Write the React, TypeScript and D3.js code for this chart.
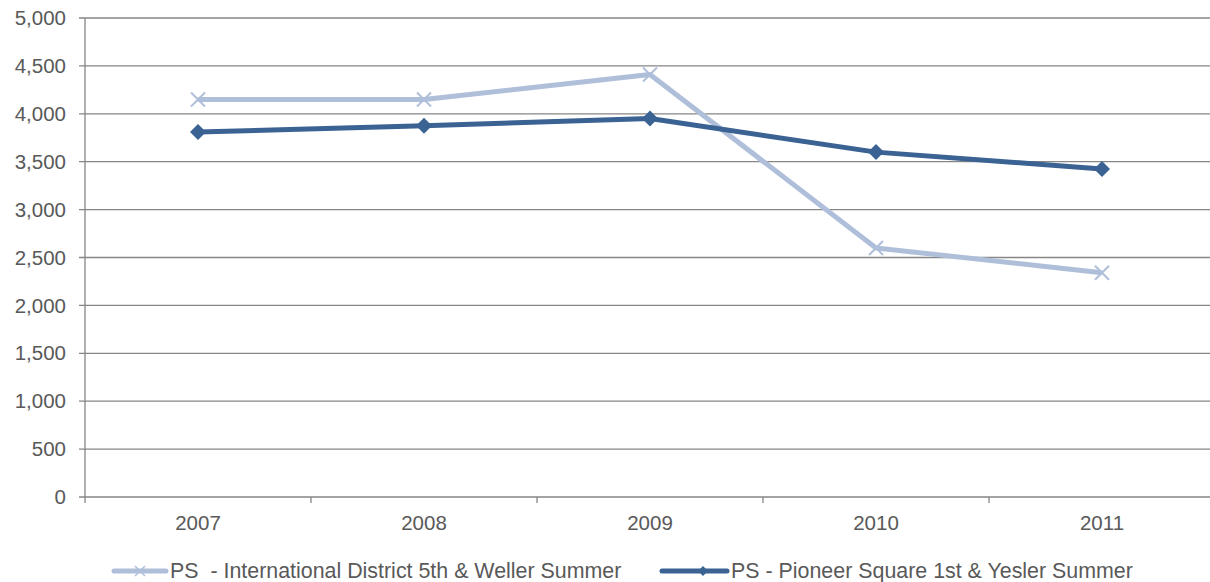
import React from 'react';
import * as d3 from 'd3';

const years = ['2007', '2008', '2009', '2010', '2011'];
const intlDistrict = [4150, 4150, 4410, 2600, 2340];
const pioneerSquare = [3810, 3875, 3950, 3600, 3425];
const yTicks = [0, 500, 1000, 1500, 2000, 2500, 3000, 3500, 4000, 4500, 5000];
const seriesNames = [
  'PS  - International District 5th & Weller Summer',
  'PS - Pioneer Square 1st & Yesler Summer',
];

const W = 1210;
const H = 582;
const margin = { top: 18, right: 0, bottom: 85, left: 85 };
const lightColor = '#afbfda';
const darkColor = '#3a6293';
const axisColor = '#868686';
const textColor = '#595959';

export default function App() {
  const x = d3.scaleBand().domain(years).range([margin.left, margin.left + 5 * 226]);
  const y = d3.scaleLinear().domain([0, 5000]).range([H - margin.bottom, margin.top]);
  const cx = (d: string) => (x(d) ?? 0) + x.bandwidth() / 2;
  const line = d3.line<number>().x((_, i) => cx(years[i])).y((d) => y(d));
  const fmt = d3.format(',');

  const diamond = (px: number, py: number, r: number) =>
    `M${px},${py - r}L${px + r},${py}L${px},${py + r}L${px - r},${py}Z`;
  const cross = (px: number, py: number, r: number) =>
    `M${px - r},${py - r}L${px + r},${py + r}M${px - r},${py + r}L${px + r},${py - r}`;

  return (
    <svg width={W} height={H} style={{ position: 'absolute', left: 0, top: 0, fontFamily: 'Liberation Sans, Arial, sans-serif' }}>
      <rect width={W} height={H} fill="#fff" />
      {yTicks.map((t) => (
        <g key={t}>
          <line x1={margin.left - 6} x2={W} y1={y(t)} y2={y(t)} stroke={axisColor} strokeWidth={1.3} />
          <text x={66} y={y(t)} dy="0.35em" textAnchor="end" fontSize={20.5} fill={textColor}>
            {fmt(t)}
          </text>
        </g>
      ))}
      <line x1={margin.left} x2={margin.left} y1={y(5000)} y2={y(0) + 6} stroke={axisColor} strokeWidth={1.3} />
      {years.map((yr) => (
        <line key={yr} x1={x(yr)! + x.bandwidth()} x2={x(yr)! + x.bandwidth()} y1={y(0)} y2={y(0) + 6} stroke={axisColor} strokeWidth={1.3} />
      ))}
      {years.map((yr) => (
        <text key={yr} x={cx(yr)} y={y(0) + 33} textAnchor="middle" fontSize={20.5} fill={textColor}>
          {yr}
        </text>
      ))}

      <path d={line(intlDistrict) ?? ''} fill="none" stroke={lightColor} strokeWidth={5} strokeLinejoin="round" />
      {intlDistrict.map((v, i) => (
        <path key={i} d={cross(cx(years[i]), y(v), 7)} stroke={lightColor} strokeWidth={2} />
      ))}
      <path d={line(pioneerSquare) ?? ''} fill="none" stroke={darkColor} strokeWidth={5} strokeLinejoin="round" />
      {pioneerSquare.map((v, i) => (
        <path key={i} d={diamond(cx(years[i]), y(v), 8)} fill={darkColor} />
      ))}

      <g>
        <line x1={114} x2={166} y1={571} y2={571} stroke={lightColor} strokeWidth={5} strokeLinecap="round" />
        <path d={cross(140, 571, 5)} stroke={lightColor} strokeWidth={1.5} />
        <text x={170} y={571} dy="0.35em" fontSize={21.4} fill={textColor} xmlSpace="preserve" style={{ whiteSpace: 'pre' }}>{seriesNames[0]}</text>
        <line x1={662} x2={727} y1={571} y2={571} stroke={darkColor} strokeWidth={5} strokeLinecap="round" />
        <path d={diamond(703, 571, 5)} fill={darkColor} />
        <text x={731} y={571} dy="0.35em" fontSize={21.4} fill={textColor}>{seriesNames[1]}</text>
      </g>
    </svg>
  );
}
